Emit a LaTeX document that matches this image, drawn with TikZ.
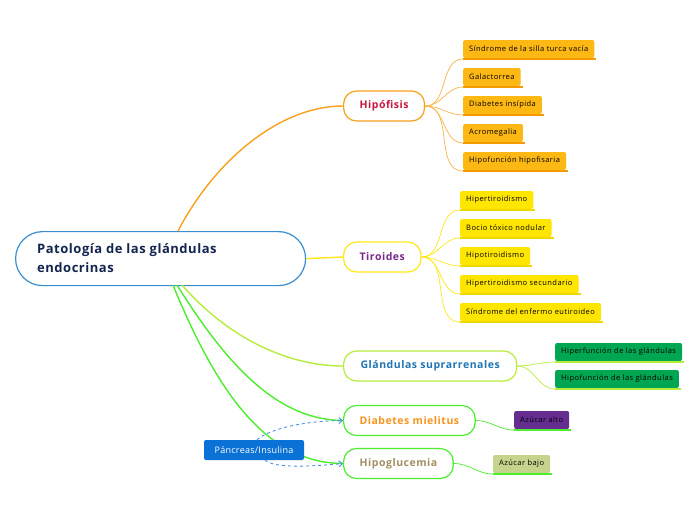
\documentclass[tikz,border=0pt]{standalone}
\usepackage{fontspec}
\setmainfont{Open Sans}
\usetikzlibrary{arrows.meta}
\definecolor{navy}{HTML}{13254F}
\definecolor{cblue}{HTML}{3A8ED0}
\definecolor{orB}{HTML}{F9A11B}
\definecolor{orF}{HTML}{FDB813}
\definecolor{orU}{HTML}{F39C00}
\definecolor{crim}{HTML}{C8173E}
\definecolor{yeB}{HTML}{FFE81A}
\definecolor{yeF}{HTML}{FFE600}
\definecolor{yeU}{HTML}{F2D600}
\definecolor{purp}{HTML}{7A2A8C}
\definecolor{liB}{HTML}{B8EC3C}
\definecolor{bluT}{HTML}{1F75B5}
\definecolor{grF}{HTML}{00A651}
\definecolor{grB}{HTML}{4CEE2E}
\definecolor{orT}{HTML}{F7941D}
\definecolor{tanT}{HTML}{A28F62}
\definecolor{puF}{HTML}{662D91}
\definecolor{olF}{HTML}{C5D38C}
\definecolor{pbF}{HTML}{0A72D6}
\definecolor{dashblue}{HTML}{4A8EE8}
\tikzset{
  x=1pt,y=-1pt,
  branch/.style={draw,line width=1.2pt,rounded corners=13pt,fill=white,minimum height=30pt,inner xsep=16pt,font=\fontsize{10.5}{12}\selectfont\bfseries\addfontfeature{LetterSpace=5},anchor=west},
  leaf/.style={rounded corners=2pt,minimum height=18pt,inner xsep=6pt,inner ysep=0pt,font=\fontsize{7.5}{8}\selectfont\addfontfeature{LetterSpace=6},anchor=west,text=black},
  conn/.style={line width=1.4pt},
  thinconn/.style={line width=0.7pt},
  dasharrow/.style={dashblue,line width=0.9pt,dashed,-{Straight Barb[length=3.5pt,width=6pt]}},
}
\newcommand{\uline}[2]{\draw[#1,line width=1.6pt] ([yshift=-0.8pt]#2.south west) -- ([xshift=2pt,yshift=-0.8pt]#2.south east);}
\begin{document}
\begin{tikzpicture}
\useasboundingbox (0,0) rectangle (696,520);
\fill[white] (0,0) rectangle (696,520);

% central node
\node[draw=cblue,line width=1.2pt,rounded corners=27pt,fill=white,minimum width=290pt,minimum height=54pt,anchor=north west,inner sep=0pt] (c) at (15,231) {};
\node[anchor=west,align=left,text=navy,font=\fontsize{13}{19}\selectfont\bfseries\addfontfeature{LetterSpace=4},inner sep=0pt] (ct) at (37,258.5) {Patología de las glándulas\\endocrinas};

% branches
\node[branch,draw=orB,text=crim] (hip) at (343,106) {Hipófisis};
\node[branch,draw=yeB,text=purp] (tir) at (343,257) {Tiroides};
\node[branch,draw=liB,text=bluT,inner xsep=17pt] (sup) at (343,366) {Glándulas suprarrenales};
\node[branch,draw=grB,text=orT] (dia) at (343,420.5) {Diabetes mielitus};
\node[branch,draw=grB,text=tanT] (hgl) at (343,463.5) {Hipoglucemia};

% central connectors
\coordinate (c1) at (178,231);
\coordinate (c3) at (182,285);
\coordinate (c4) at (177,285);
\coordinate (c5) at (173,285);
\draw[conn,orB] (c1) .. controls (215,160) and (280,106) .. (hip.west);
\draw[conn,yeB] (c.east) -- (tir.west);
\draw[conn,liB] (c3) .. controls (230,340) and (290,366) .. (sup.west);
\draw[conn,grB] (c4) .. controls (230,370) and (280,420) .. (dia.west);
\draw[conn,grB] (c5) .. controls (220,400) and (270,463) .. (hgl.west);

% Hipofisis leaves
\node[leaf,fill=orF] (h1) at (463,49) {Síndrome de la silla turca vacía};
\node[leaf,fill=orF] (h2) at (463,77) {Galactorrea};
\node[leaf,fill=orF] (h3) at (463,105) {Diabetes insípida};
\node[leaf,fill=orF] (h4) at (463,133) {Acromegalia};
\node[leaf,fill=orF] (h5) at (463,161) {Hipofunción hipofisaria};
\foreach \n in {h1,h2,h3,h4,h5}{
  \uline{orU}{\n}
  \draw[thinconn,orB!80] (hip.east) to[out=0,in=180] ([yshift=-0.8pt]\n.south west);
}

% Tiroides leaves
\node[leaf,fill=yeF] (t1) at (460,200) {Hipertiroidismo};
\node[leaf,fill=yeF] (t2) at (460,228) {Bocio tóxico nodular};
\node[leaf,fill=yeF] (t3) at (460,256) {Hipotiroidismo};
\node[leaf,fill=yeF] (t4) at (460,284) {Hipertiroidismo secundario};
\node[leaf,fill=yeF] (t5) at (460,312) {Síndrome del enfermo eutiroideo};
\foreach \n in {t1,t2,t3,t4,t5}{
  \uline{yeU}{\n}
  \draw[thinconn,yeB] (tir.east) to[out=0,in=180] ([yshift=-0.8pt]\n.south west);
}

% Suprarrenales leaves
\node[leaf,fill=grF] (s1) at (555,352) {Hiperfunción de las glándulas};
\node[leaf,fill=grF] (s2) at (555,379) {Hipofunción de las glándulas};
\foreach \n in {s1,s2}{
  \uline{liB}{\n}
  \draw[thinconn,liB] (sup.east) to[out=0,in=180] ([yshift=-0.8pt]\n.south west);
}

% Diabetes / Hipoglucemia leaves
\node[leaf,fill=puF] (d1) at (514,420) {Azúcar alto};
\uline{grB}{d1}
\draw[thinconn,grB] (dia.east) to[out=0,in=180] ([yshift=-0.8pt]d1.south west);
\node[leaf,fill=olF] (g1) at (493,464) {Azúcar bajo};
\uline{grB}{g1}
\draw[thinconn,grB] (hgl.east) to[out=0,in=180] ([yshift=-0.8pt]g1.south west);

% Pancreas
\node[rounded corners=2pt,fill=pbF,text=white,minimum width=100pt,minimum height=20pt,inner sep=0pt,font=\fontsize{9}{10}\selectfont\addfontfeature{LetterSpace=3}] (pan) at (254,450) {Páncreas/Insulina};
\draw[dasharrow] ([xshift=3pt]pan.north) .. controls (268,430) and (300,421) .. (dia.west);
\draw[dasharrow] ([xshift=11pt]pan.south) .. controls (275,468) and (305,467) .. (hgl.west);
\end{tikzpicture}
\end{document}
